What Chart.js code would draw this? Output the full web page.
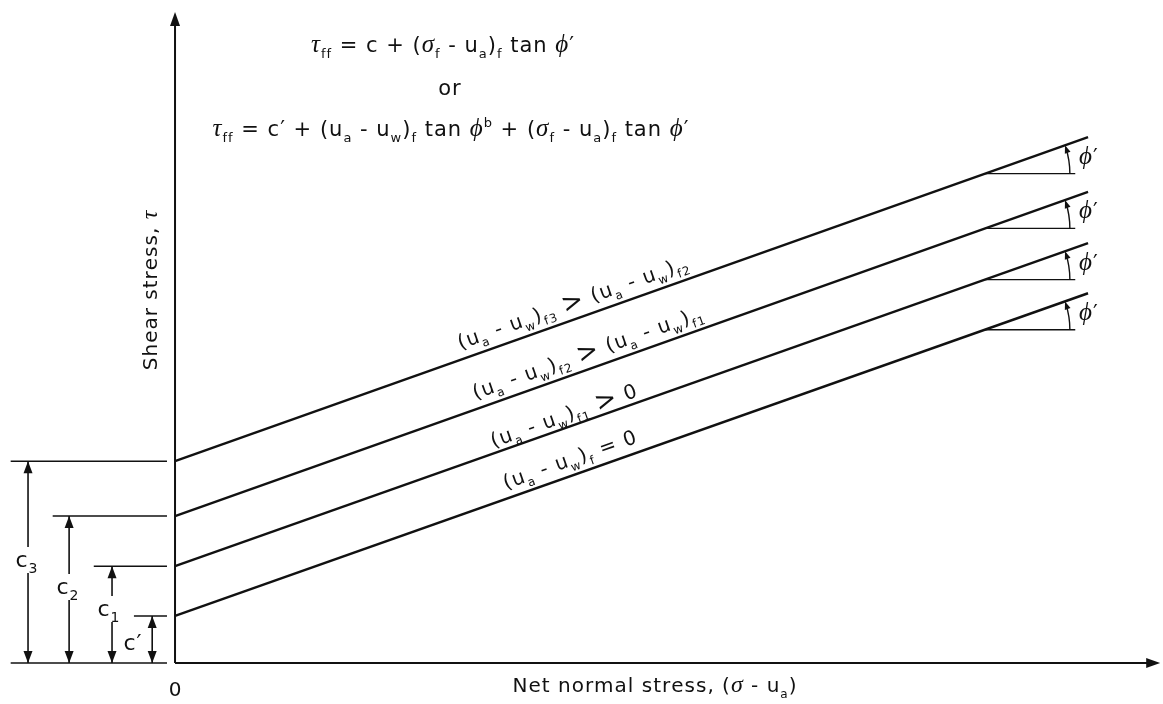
<!DOCTYPE html>
<html>
<head>
<meta charset="utf-8">
<script src="https://cdn.jsdelivr.net/npm/chart.js@4.4.1/dist/chart.umd.min.js"></script>
<style>
  html, body { margin: 0; padding: 0; background: #fff; }
  #wrap { width: 1163px; height: 704px; }
</style>
</head>
<body>
<div id="wrap"><canvas id="chart" width="1163" height="704"></canvas></div>
<script>
// net normal stress at both ends of each failure envelope
const envelopeX = [0, 100];
// shear strength where each envelope starts and ends: c', c1, c2, c3
const envelopeStart = [5.15, 10.6, 16.1, 22.1];
const envelopeEnd = [40.5, 46.0, 51.6, 57.6];
// matric suction written along each envelope
const envelopeLabels = [
  [["(u", "n"], ["a", "s"], [" - u", "n"], ["w", "s"], [")", "n"], ["f", "s"], [" = 0", "n"]],
  [["(u", "n"], ["a", "s"], [" - u", "n"], ["w", "s"], [")", "n"], ["f1", "s"], [" ", "n"], [">", "big"], [" 0", "n"]],
  [["(u", "n"], ["a", "s"], [" - u", "n"], ["w", "s"], [")", "n"], ["f2", "s"], [" ", "n"], [">", "big"], [" (u", "n"], ["a", "s"], [" - u", "n"], ["w", "s"], [")", "n"], ["f1", "s"]],
  [["(u", "n"], ["a", "s"], [" - u", "n"], ["w", "s"], [")", "n"], ["f3", "s"], [" ", "n"], [">", "big"], [" (u", "n"], ["a", "s"], [" - u", "n"], ["w", "s"], [")", "n"], ["f2", "s"]]
];
// intercept names and where their dimension arrows stand
const cNames = [
  [["c′", "n"]],
  [["c", "n"], ["1", "s"]],
  [["c", "n"], ["2", "s"]],
  [["c", "n"], ["3", "s"]]
];
const dimArrowX = [-2.5, -6.9, -11.6, -16.1];
const levelLineStart = [-4.5, -8.9, -13.4, -18.0];
const levelLineEnd = -0.88;
// horizontal reference for the friction angle at the top of each envelope
const phiBaseX = 88.7;
const phiEndX = 98.6;
const phiBaseY = [36.5, 42.0, 47.6, 53.6];

const eqLine1 = [["τ", "g"], ["ff", "s"], [" = c + (", "n"], ["σ", "g"], ["f", "s"], [" - u", "n"], ["a", "s"], [")", "n"], ["f", "s"], [" tan ", "n"], ["ϕ", "g"], ["′", "n"]];
const eqLine2 = [["or", "n"]];
const eqLine3 = [["τ", "g"], ["ff", "s"], [" = c′ + (u", "n"], ["a", "s"], [" - u", "n"], ["w", "s"], [")", "n"], ["f", "s"], [" tan ", "n"], ["ϕ", "g"], ["b", "p"], [" + (", "n"], ["σ", "g"], ["f", "s"], [" - u", "n"], ["a", "s"], [")", "n"], ["f", "s"], [" tan ", "n"], ["ϕ", "g"], ["′", "n"]];
const xTitle = [["Net normal stress, (", "n"], ["σ", "g"], [" - u", "n"], ["a", "s"], [")", "n"]];
const yTitle = [["Shear stress, ", "n"], ["τ", "g"]];

const SANS = '"DejaVu Sans", Arial, sans-serif';
const SERIF = '"Liberation Serif", "Times New Roman", serif';
const INK = "#111";

function partFont(kind, size) {
  switch (kind) {
    case "g": return { font: `italic ${Math.round(size * 1.2)}px ${SERIF}`, dy: 0 };
    case "s": return { font: `${Math.round(size * 0.62)}px ${SANS}`, dy: size * 0.28 };
    case "p": return { font: `${Math.round(size * 0.62)}px ${SANS}`, dy: -size * 0.42 };
    case "big": return { font: `${Math.round(size * 1.3)}px ${SANS}`, dy: size * 0.05 };
    default: return { font: `${size}px ${SANS}`, dy: 0 };
  }
}

// text is set one glyph at a time so the wide tracking can be controlled
function partWidth(ctx, text, spacing) {
  let w = 0;
  for (const ch of text) w += ctx.measureText(ch).width + spacing;
  return w;
}

function richWidth(ctx, parts, size, spacing) {
  return parts.reduce((sum, [t, k]) => {
    ctx.font = partFont(k, size).font;
    return sum + partWidth(ctx, t, spacing);
  }, 0);
}

// draws mixed text (subscripts, greek) with y as the baseline
function drawRich(ctx, parts, x, y, size, align, spacing = 0) {
  ctx.textAlign = "left";
  ctx.textBaseline = "alphabetic";
  const total = richWidth(ctx, parts, size, spacing);
  let cx = align === "center" ? x - total / 2 : align === "right" ? x - total : x;
  parts.forEach(([t, k]) => {
    const f = partFont(k, size);
    ctx.font = f.font;
    for (const ch of t) {
      ctx.fillText(ch, cx, y + f.dy);
      cx += ctx.measureText(ch).width + spacing;
    }
  });
  return total;
}

function arrowHead(ctx, tipX, tipY, dirX, dirY, len, half) {
  const bx = tipX - dirX * len;
  const by = tipY - dirY * len;
  ctx.beginPath();
  ctx.moveTo(tipX, tipY);
  ctx.lineTo(bx - dirY * half, by + dirX * half);
  ctx.lineTo(bx + dirY * half, by - dirX * half);
  ctx.closePath();
  ctx.fill();
}

const datasets = [];
envelopeStart.forEach((y0, i) => {
  datasets.push({
    data: [{ x: envelopeX[0], y: y0 }, { x: envelopeX[1], y: envelopeEnd[i] }],
    borderColor: INK, borderWidth: 2.4
  });
  datasets.push({
    data: [{ x: phiBaseX, y: phiBaseY[i] }, { x: phiEndX, y: phiBaseY[i] }],
    borderColor: INK, borderWidth: 1.3
  });
  datasets.push({
    data: [{ x: levelLineStart[i], y: y0 }, { x: levelLineEnd, y: y0 }],
    borderColor: INK, borderWidth: 1.3
  });
  datasets.push({
    data: [{ x: dimArrowX[i], y: 0 }, { x: dimArrowX[i], y: y0 }],
    borderColor: INK, borderWidth: 1.6
  });
});
// zero shear stress line under the dimension arrows
datasets.push({
  data: [{ x: levelLineStart[3], y: 0 }, { x: levelLineEnd, y: 0 }],
  borderColor: INK, borderWidth: 1.3
});

const annotations = {
  id: "annotations",
  afterDatasetsDraw(chart) {
    const { ctx, scales: { x, y } } = chart;
    const px = (v) => x.getPixelForValue(v);
    const py = (v) => y.getPixelForValue(v);
    ctx.save();
    ctx.fillStyle = INK;
    ctx.strokeStyle = INK;

    // axes with arrowheads
    const ox = px(0), oy = py(0);
    const yTop = py(71.3), xRight = px(107.9);
    ctx.lineWidth = 2;
    ctx.beginPath();
    ctx.moveTo(ox, oy);
    ctx.lineTo(ox, yTop + 10);
    ctx.moveTo(ox, oy);
    ctx.lineTo(xRight - 10, oy);
    ctx.stroke();
    arrowHead(ctx, ox, yTop, 0, -1, 14, 5);
    arrowHead(ctx, xRight, oy, 1, 0, 14, 5);

    // dimension arrowheads and intercept names
    envelopeStart.forEach((lvl, i) => {
      const ax = px(dimArrowX[i]);
      arrowHead(ctx, ax, py(lvl), 0, -1, 12, 4.5);
      arrowHead(ctx, ax, oy, 0, 1, 12, 4.5);
    });
    const cPos = [[133, 643], [109, 609], [68, 587], [27, 560]];
    cNames.forEach((parts, i) => {
      const [cx, cy] = cPos[i];
      const w = richWidth(ctx, parts, 22, 1);
      if (i > 0) {
        ctx.fillStyle = "#fff";
        ctx.fillRect(cx - w / 2 - 2, cy - 13, w + 4, 26);
        ctx.fillStyle = INK;
      }
      drawRich(ctx, parts, cx, cy + 7, 22, "center", 1);
    });

    // slope of the envelopes in screen space
    const ang = Math.atan2(py(envelopeStart[0]) - py(envelopeEnd[0]), px(envelopeX[1]) - px(envelopeX[0]));

    // friction angle arcs and labels
    phiBaseY.forEach((by) => {
      const cx = px(phiBaseX), cy = py(by);
      const r = 85;
      ctx.lineWidth = 1.4;
      ctx.beginPath();
      ctx.arc(cx, cy, r, -ang + 0.03, 0);
      ctx.stroke();
      const tx = cx + r * Math.cos(-ang), ty = cy + r * Math.sin(-ang);
      arrowHead(ctx, tx, ty, -Math.sin(ang), -Math.cos(ang), 8, 3);
      drawRich(ctx, [["ϕ", "g"], ["′", "n"]], 1079, cy - 10, 21, "left", 1);
    });

    // suction labels laid along the envelopes
    const labelPos = [[570, 459], [564, 415], [588, 352], [573, 302]];
    envelopeLabels.forEach((parts, i) => {
      const [lx, ly] = labelPos[i];
      ctx.save();
      ctx.translate(lx, ly);
      ctx.rotate(-ang);
      drawRich(ctx, parts, 0, 7, 20, "center", 1.2);
      ctx.restore();
    });

    // equations
    drawRich(ctx, eqLine1, 443, 52, 21, "center", 1);
    drawRich(ctx, eqLine2, 450, 95, 21, "center", 1);
    drawRich(ctx, eqLine3, 451, 136, 21, "center", 1);

    // axis titles
    drawRich(ctx, [["0", "n"]], ox, 696, 20, "center");
    drawRich(ctx, xTitle, 655, 692, 20, "center", 1);
    ctx.save();
    ctx.translate(150, 290);
    ctx.rotate(-Math.PI / 2);
    drawRich(ctx, yTitle, 0, 7, 20, "center", 1);
    ctx.restore();

    ctx.restore();
  }
};

new Chart(document.getElementById("chart"), {
  type: "scatter",
  data: { datasets },
  options: {
    responsive: false,
    animation: false,
    devicePixelRatio: 1,
    layout: { padding: 0 },
    showLine: true,
    elements: { point: { radius: 0, hoverRadius: 0 }, line: { tension: 0 } },
    plugins: { legend: { display: false }, tooltip: { enabled: false } },
    scales: {
      x: { type: "linear", display: false, min: -19.17, max: 108.21 },
      y: { type: "linear", display: false, min: -4.49, max: 72.62 }
    }
  },
  plugins: [annotations]
});
</script>
</body>
</html>
